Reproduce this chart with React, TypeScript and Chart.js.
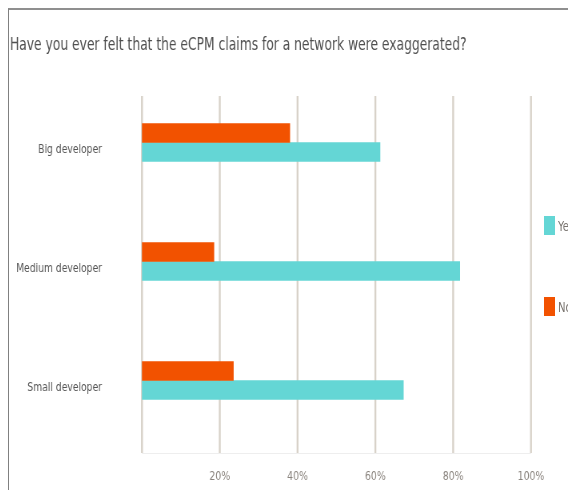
import React, { useEffect, useRef } from "react";
import { Chart, registerables } from "chart.js";

Chart.register(...registerables);

const TITLE = "Have you ever felt that the eCPM claims for a network were exaggerated?";
const categories = ["Big developer", "Medium developer", "Small developer"];
const seriesNames = ["No", "Yes"];
const noValues = [38.0, 18.5, 23.5];
const yesValues = [61.2, 81.7, 67.2];
const xTicks = [0, 20, 40, 60, 80, 100];
const legendOrder = ["Yes", "No"];

const COLORS: Record<string, string> = { No: "#F25200", Yes: "#64D6D5" };
const FONT = "'Liberation Sans Narrow', 'DejaVu Sans Condensed', 'Arial Narrow', sans-serif";
const GRID_SHIFT = 13;

// the whole chart is drawn on a wider canvas and shown horizontally squeezed
const CSS_W = 567;
const CSS_H = 488;
const INNER_W = 709;
const SX = CSS_W / INNER_W;

const gridPlugin = {
  id: "shiftedGrid",
  beforeDatasetsDraw(chart: any) {
    const { ctx, chartArea, scales } = chart;
    const x = scales.x;
    ctx.save();
    ctx.strokeStyle = "#eeeeee";
    ctx.lineWidth = 1;
    ctx.beginPath();
    ctx.moveTo(chartArea.left, chartArea.bottom + GRID_SHIFT + 0.5);
    ctx.lineTo(chartArea.right, chartArea.bottom + GRID_SHIFT + 0.5);
    ctx.stroke();
    ctx.strokeStyle = "#d8d2c9";
    ctx.lineWidth = 2.4;
    x.ticks.forEach((t: any) => {
      const px = x.getPixelForValue(t.value);
      ctx.beginPath();
      ctx.moveTo(px, chartArea.top + GRID_SHIFT);
      ctx.lineTo(px, chartArea.bottom + GRID_SHIFT);
      ctx.stroke();
    });
    ctx.restore();
  },
};

export default function App() {
  const ref = useRef<HTMLCanvasElement>(null);
  useEffect(() => {
    document.documentElement.style.overflow = "hidden";
    document.body.style.overflow = "hidden";
    if (!ref.current) return;
    const chart = new Chart(ref.current, {
      type: "bar",
      data: {
        labels: categories,
        datasets: [
          { label: seriesNames[0], data: noValues, backgroundColor: COLORS.No, barThickness: 19 },
          { label: seriesNames[1], data: yesValues, backgroundColor: COLORS.Yes, barThickness: 19 },
        ],
      },
      options: {
        indexAxis: "y",
        animation: false,
        responsive: false,
        devicePixelRatio: 1,
        layout: { padding: { left: 1.25, right: 56.3, top: 0, bottom: 0 } },
        plugins: {
          legend: { display: false },
          tooltip: { enabled: false },
          title: {
            display: true,
            text: TITLE,
            align: "start",
            color: "#4f4f4f",
            font: { family: FONT, size: 17.1, weight: "normal" },
            padding: { top: 25, bottom: 27.5 },
          },
        },
        scales: {
          x: {
            type: "linear",
            min: xTicks[0],
            max: xTicks[xTicks.length - 1],
            afterBuildTicks: (s: any) => {
              s.ticks = xTicks.map((v) => ({ value: v }));
            },
            afterFit: (s: any) => {
              s.height = 58;
            },
            grid: { display: false, drawTicks: false },
            border: { display: false },
            ticks: {
              padding: 28.5,
              color: "#8a847e",
              font: { family: FONT, size: 13 },
              callback: (v: any) => (Number(v) === 0 ? "" : `${v}%`),
            },
          },
          y: {
            type: "category",
            afterFit: (s: any) => {
              s.width = 165;
            },
            grid: { display: false, drawTicks: false },
            border: { display: false },
            ticks: {
              padding: 50,
              labelOffset: 7,
              color: "#555555",
              font: { family: FONT, size: 12.8 },
            },
          },
        },
      },
      plugins: [gridPlugin],
    });
    return () => chart.destroy();
  }, []);

  const legendTops: Record<string, number> = { Yes: 206, No: 287 };

  return (
    <div
      style={{
        position: "relative",
        width: 568,
        height: 490,
        marginBottom: -8,
        boxSizing: "border-box",
        borderTop: "2px solid #8f8f8f",
        borderLeft: "1px solid #808080",
        overflow: "hidden",
      }}
    >
      <canvas
        ref={ref}
        width={INNER_W}
        height={CSS_H}
        style={{ display: "block", width: CSS_W, height: CSS_H }}
      />
      {legendOrder.map((name) => (
        <div
          key={name}
          style={{
            position: "absolute",
            left: 535,
            top: legendTops[name],
            display: "flex",
            alignItems: "center",
            height: 19,
            fontFamily: FONT,
            fontSize: 14,
            color: "#7a7570",
            whiteSpace: "nowrap",
          }}
        >
          <span style={{ display: "inline-block", width: 11, height: 19, background: COLORS[name], marginRight: 3 }} />
          <span style={{ display: "inline-block", transform: `scaleX(${SX})`, transformOrigin: "left center" }}>{name}</span>
        </div>
      ))}
    </div>
  );
}
